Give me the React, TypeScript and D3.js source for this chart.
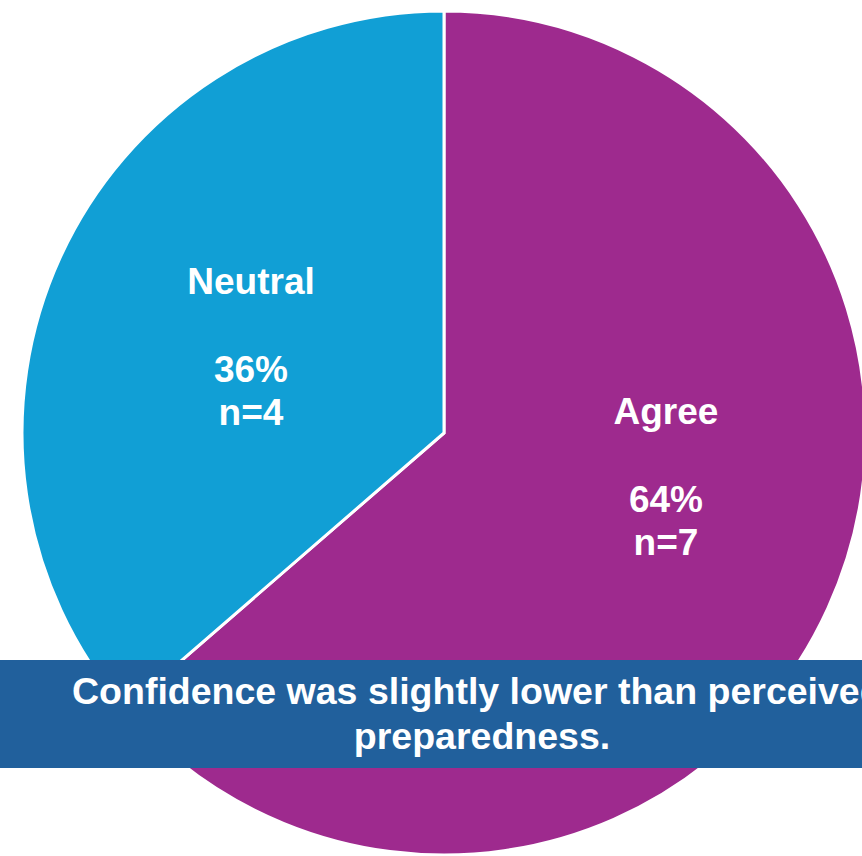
import React from "react";
import * as d3 from "d3";

const categories = ["Agree", "Neutral"];
const counts = [7, 4];
const percents = ["64%", "36%"];
const colors = ["#9E2A8E", "#119FD5"];
const bannerLines = ["Confidence was slightly lower than perceived", "preparedness."];

export default function App() {
  const W = 862, H = 856;
  const cx = 444, cy = 433, r = 422;
  const pie = d3.pie<number>().sort(null).value((d) => d);
  const arcs = pie(counts);
  const arc = d3.arc<d3.PieArcDatum<number>>().innerRadius(0).outerRadius(r);
  const labelPos = [
    { x: 666 - cx, y: 424 - cy },
    { x: 251 - cx, y: 294 - cy },
  ];
  const font = "'Liberation Sans', Arial, sans-serif";
  return (
    <svg width={W} height={H} style={{ position: "absolute", left: 0, top: 0 }}>
      <rect width={W} height={H} fill="#fff" />
      <g transform={`translate(${cx},${cy})`}>
        {arcs.map((a, i) => (
          <path key={i} d={arc(a) || ""} fill={colors[i]} stroke="#fff" strokeWidth={3} />
        ))}
        {arcs.map((a, i) => (
          <text key={"t" + i} x={labelPos[i].x} y={labelPos[i].y} fill="#fff" fontFamily={font} fontWeight="bold" fontSize={37} textAnchor="middle">
            <tspan x={labelPos[i].x}>{categories[i]}</tspan>
            <tspan x={labelPos[i].x} dy={88}>{percents[i]}</tspan>
            <tspan x={labelPos[i].x} dy={43}>{"n=" + counts[i]}</tspan>
          </text>
        ))}
      </g>
      <rect x={0} y={660} width={W} height={108} fill="#21609C" />
      <text x={72} y={704} fill="#fff" fontFamily={font} fontWeight="bold" fontSize={37.5}>{bannerLines[0]}</text>
      <text x={482} y={749} fill="#fff" fontFamily={font} fontWeight="bold" fontSize={37.5} textAnchor="middle">{bannerLines[1]}</text>
    </svg>
  );
}
